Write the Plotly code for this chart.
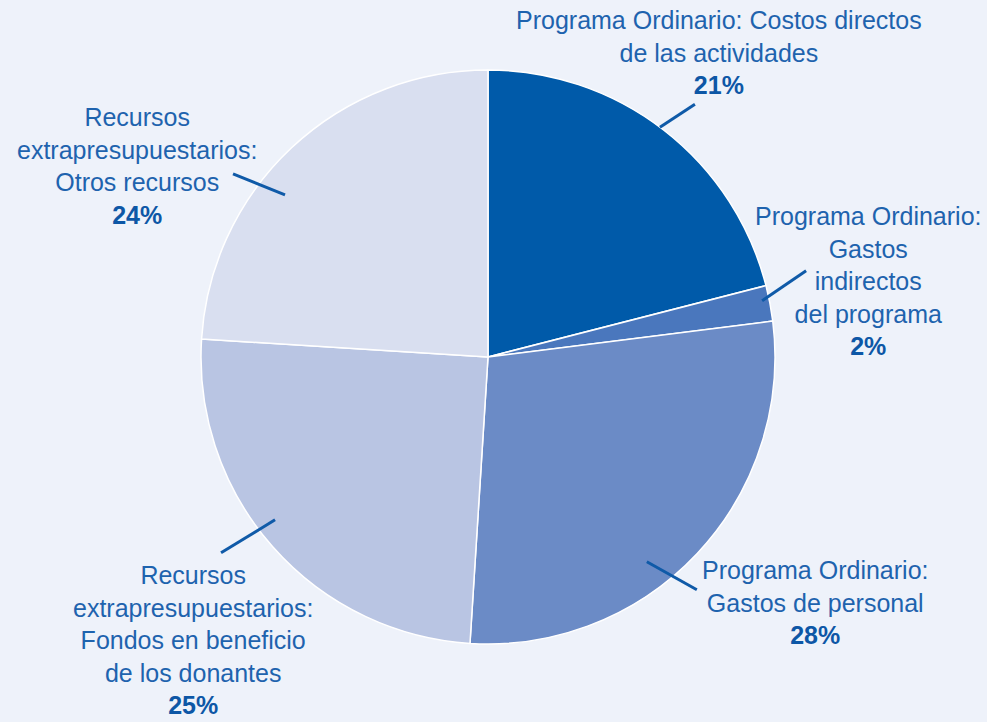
import math
import plotly.graph_objects as go

# ---- data ----
categories = [
    "Programa Ordinario: Costos directos de las actividades",
    "Programa Ordinario: Gastos indirectos del programa",
    "Programa Ordinario: Gastos de personal",
    "Recursos extrapresupuestarios: Fondos en beneficio de los donantes",
    "Recursos extrapresupuestarios: Otros recursos",
]
values = [21, 2, 28, 25, 24]
label_texts = [
    "Programa Ordinario: Costos directos<br>de las actividades",
    "Programa Ordinario:<br>Gastos<br>indirectos<br>del programa",
    "Programa Ordinario:<br>Gastos de personal",
    "Recursos<br>extrapresupuestarios:<br>Fondos en beneficio<br>de los donantes",
    "Recursos<br>extrapresupuestarios:<br>Otros recursos",
]

# ---- style / layout ----
W, H = 987, 722
colors = ["#005AA9", "#4A77BD", "#6B8BC6", "#B9C5E3", "#D9DFF0"]
bg = "#EEF2FA"
text_color = "#1E63AE"
pct_color = "#0D57A6"
line_color = "#0F5AA8"

cx, cy, R = 488, 357, 287  # pie center/radius in pixels
# label block centers (pixels)
label_pos = [(719, 53), (868, 281), (815, 602), (193, 640), (137, 166)]
# leader lines: (angle offset deg from slice mid, radius fraction, dx, dy px)
leaders = [(-1.0, 1.0, 35, -23), (-0.8, 0.975, 44, -30), (9.0, 0.903, 50, 28),
           (4.0, 0.934, -54, 33), (-8.2, 0.905, -52, -21)]

fig = go.Figure(go.Pie(
    labels=categories, values=values, sort=False, direction="clockwise",
    rotation=0, marker=dict(colors=colors, line=dict(color="white", width=1.5)),
    textinfo="none", hoverinfo="label+percent", showlegend=False,
    domain=dict(x=[(cx - R) / W, (cx + R) / W], y=[(H - cy - R) / H, (H - cy + R) / H]),
))

total = sum(values)
cum = 0
annotations = []
shapes = []
for i, v in enumerate(values):
    mid = (cum + v / 2) / total * 360
    cum += v
    pct = round(v / total * 100)
    lx, ly = label_pos[i]
    annotations.append(dict(
        x=lx / W, y=1 - ly / H, xref="paper", yref="paper", showarrow=False,
        xanchor="center", yanchor="middle", align="center",
        text=f"{label_texts[i]}<br><b style='color:{pct_color}'>{pct}%</b>",
        font=dict(family="Liberation Sans, Arial, sans-serif", size=25, color=text_color),
    ))
    da, rf, dx, dy = leaders[i]
    a = math.radians(mid + da)
    x0 = cx + R * rf * math.sin(a)
    y0 = cy - R * rf * math.cos(a)
    x1, y1 = x0 + dx, y0 + dy
    shapes.append(dict(type="line", xref="paper", yref="paper",
                       x0=x0 / W, y0=1 - y0 / H, x1=x1 / W, y1=1 - y1 / H,
                       line=dict(color=line_color, width=3)))

fig.update_layout(
    width=W, height=H, margin=dict(l=0, r=0, t=0, b=0),
    paper_bgcolor=bg, plot_bgcolor=bg,
    annotations=annotations, shapes=shapes,
)
fig.write_html(
    "out.html",
    config={"displayModeBar": False},
    post_script="document.body.style.margin='0';document.body.style.background='%s';" % bg,
)
